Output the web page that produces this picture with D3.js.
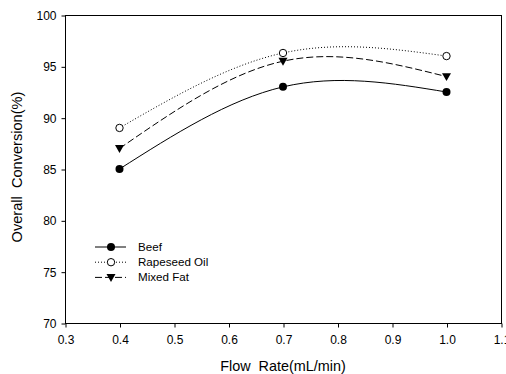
<!DOCTYPE html>
<html>
<head>
<meta charset="utf-8">
<script src="https://cdn.jsdelivr.net/npm/d3@7"></script>
<style>
  html, body { margin: 0; padding: 0; background: #fff; }
  text { font-family: "Liberation Sans", Arial, sans-serif; fill: #000; }
</style>
</head>
<body>
<div id="chart"></div>
<script>
const flowRates = [0.4, 0.7, 1.0];
const beef = [85, 93, 92.5];
const rapeseedOil = [89, 96.3, 96];
const mixedFat = [87, 95.5, 94];
const xTicks = [0.3, 0.4, 0.5, 0.6, 0.7, 0.8, 0.9, 1.0, 1.1];
const yTicks = [70, 75, 80, 85, 90, 95, 100];

const series = [
  { name: 'Beef', values: beef, dash: null, marker: 'dot' },
  { name: 'Rapeseed Oil', values: rapeseedOil, dash: '1,2', marker: 'ring' },
  { name: 'Mixed Fat', values: mixedFat, dash: '7,3', marker: 'tri' }
];

const width = 506, height = 374;
const margin = { top: 15, right: 5, bottom: 51, left: 65 };

const svg = d3.select('#chart')
  .append('svg')
  .attr('width', width)
  .attr('height', height);

const x = d3.scaleLinear().domain([0.3, 1.1]).range([margin.left, width - margin.right]);
const y = d3.scaleLinear().domain([70, 100]).range([height - margin.bottom, margin.top]);

// frame
svg.append('rect')
  .attr('x', x(0.3) + 0.5)
  .attr('y', y(100) + 0.5)
  .attr('width', x(1.1) - x(0.3))
  .attr('height', y(70) - y(100))
  .attr('fill', 'none')
  .attr('stroke', '#000')
  .attr('stroke-width', 1);

const xAxis = svg.append('g')
  .attr('transform', `translate(0.5,${y(70) + 0.5})`)
  .call(d3.axisBottom(x).tickValues(xTicks).tickFormat(d3.format('.1f')).tickSize(4).tickPadding(8));

const yAxis = svg.append('g')
  .attr('transform', `translate(${x(0.3) + 0.5},0.5)`)
  .call(d3.axisLeft(y).tickValues(yTicks).tickSize(4).tickPadding(5));

[xAxis, yAxis].forEach(a => {
  a.select('.domain').remove();
  a.selectAll('text').attr('font-size', 12).attr('font-family', '"Liberation Sans", Arial, sans-serif').attr('fill', '#111');
  a.selectAll('line').attr('stroke', '#000');
});

svg.append('text')
  .attr('x', (x(0.3) + x(1.1)) / 2)
  .attr('y', 371)
  .attr('text-anchor', 'middle')
  .attr('font-size', 14.4)
  .style('white-space', 'pre')
  .text('Flow  Rate(mL/min)');

svg.append('text')
  .attr('transform', 'translate(22,167) rotate(-90)')
  .attr('text-anchor', 'middle')
  .attr('font-size', 14.6)
  .style('white-space', 'pre')
  .text('Overall  Conversion(%)');

const line = d3.line()
  .x(d => x(d[0]))
  .y(d => y(d[1]))
  .curve(d3.curveNatural);

function drawMarker(g, type, cx, cy) {
  if (type === 'dot') {
    g.append('circle').attr('cx', cx).attr('cy', cy).attr('r', 4).attr('fill', '#000');
  } else if (type === 'ring') {
    g.append('circle').attr('cx', cx).attr('cy', cy).attr('r', 3.7)
      .attr('fill', '#fff').attr('stroke', '#000').attr('stroke-width', 1);
  } else {
    const s = 4.5;
    g.append('path')
      .attr('d', `M${cx - s},${cy - s * 0.75}L${cx + s},${cy - s * 0.75}L${cx},${cy + s}Z`)
      .attr('fill', '#000');
  }
}

series.forEach(s => {
  const pts = flowRates.map((f, i) => [f, s.values[i]]);
  svg.append('path')
    .datum(pts)
    .attr('d', line)
    .attr('fill', 'none')
    .attr('stroke', '#000')
    .attr('stroke-width', 1)
    .attr('stroke-dasharray', s.dash);
  const g = svg.append('g');
  pts.forEach(p => drawMarker(g, s.marker, x(p[0]), y(p[1])));
});

// legend
const legend = svg.append('g');
series.forEach((s, i) => {
  const ly = 247 + i * 15.2;
  legend.append('line')
    .attr('x1', 95).attr('x2', 126)
    .attr('y1', ly).attr('y2', ly)
    .attr('stroke', '#000')
    .attr('stroke-dasharray', s.dash);
  drawMarker(legend, s.marker, 111, ly);
  legend.append('text')
    .attr('x', 138)
    .attr('y', ly + 4)
    .attr('font-size', 11.6)
    .text(s.name);
});
</script>
</body>
</html>
